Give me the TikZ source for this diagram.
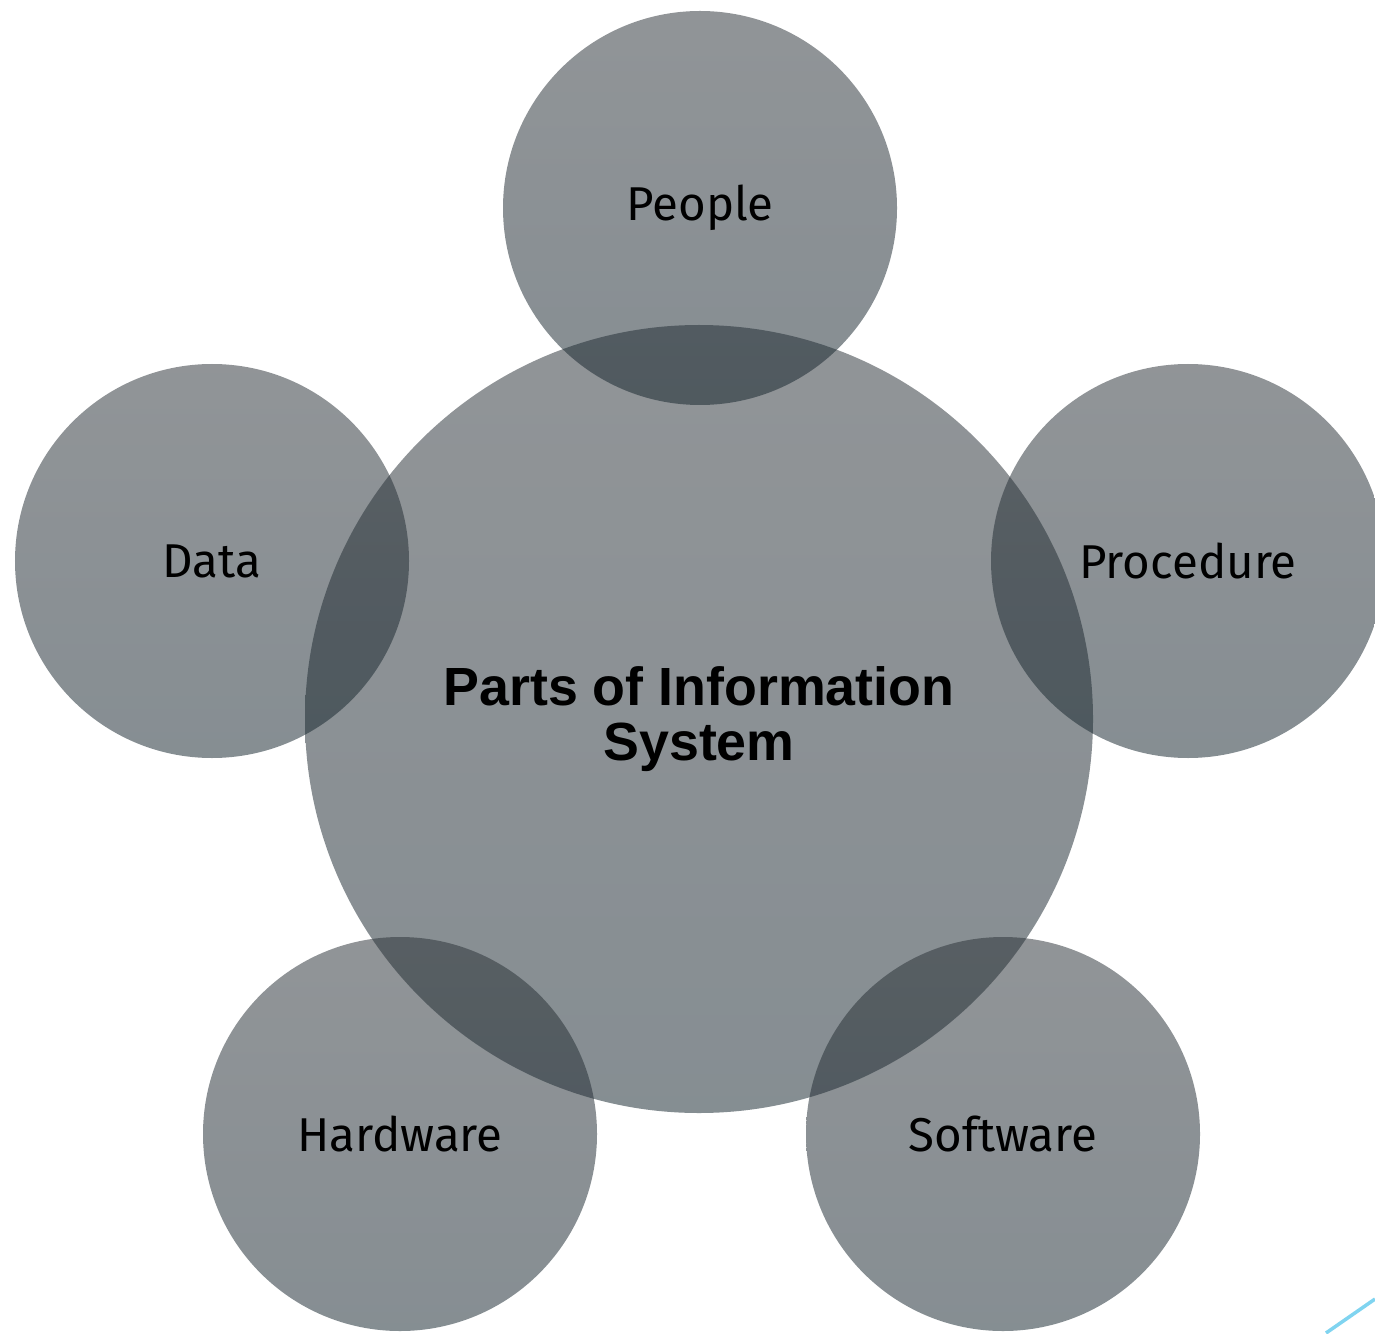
\documentclass[tikz,border=0pt]{standalone}
\usepackage{fontspec}
\setmainfont{Fira Sans}
\newfontfamily\titlefont{Liberation Sans}
\usepackage{tikz}
\usetikzlibrary{positioning, shapes}

\definecolor{parttop}{RGB}{44,50,56}
\definecolor{partbot}{RGB}{22,38,46}
\definecolor{cornerblue}{RGB}{128,212,240}

\tikzset{
    bigpart/.style={circle, minimum size=7.88cm, inner sep=0pt, top color=parttop, bottom color=partbot, fill opacity=0.52, text opacity=1, align=center, font=\titlefont\bfseries\fontsize{15.3}{15.8}\selectfont},
    part/.style={circle, minimum size=3.94cm, inner sep=0pt, top color=parttop, bottom color=partbot, fill opacity=0.52, text opacity=1, font=\fontsize{13.5}{16}\selectfont}
}

\begin{document}
\begin{tikzpicture}
    \useasboundingbox (0,0) rectangle (13.75,13.33);

    % Nodes
    \node (info) [bigpart] at (6.99,6.14) {Parts of Information\\System};
    \node (people) [part] at (7.00,11.25) {People};
    \node (procedure) [part] at (11.88,7.72) {Procedure};
    \node (data) [part] at (2.12,7.72) {Data};
    \node (hardware) [part] at (4.00,1.99) {Hardware};
    \node (software) [part] at (10.03,1.99) {Software};

    % Corner line
    \draw[cornerblue, line width=1pt] (13.26,0) -- (13.75,0.34);
\end{tikzpicture}
\end{document}
